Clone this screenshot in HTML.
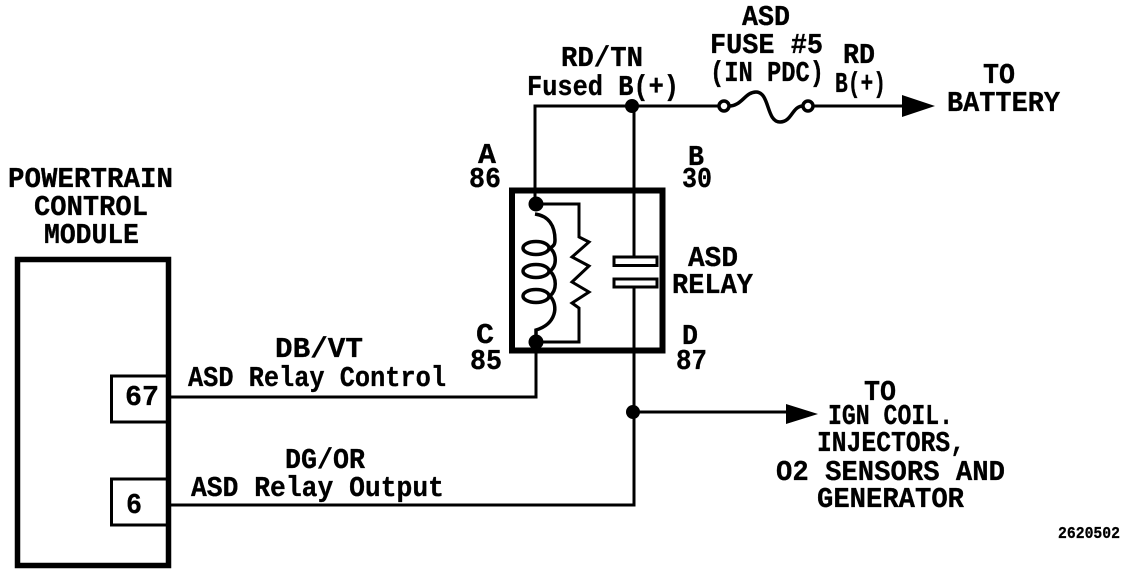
<!DOCTYPE html>
<html><head><meta charset="utf-8"><style>
html,body{margin:0;padding:0;background:#fff;width:1136px;height:576px;overflow:hidden}
svg{display:block}
text{font-family:"Liberation Mono",monospace;font-weight:bold;font-size:29px;fill:#000;stroke:#000;stroke-width:.3px}
</style></head><body>
<svg width="1136" height="576" viewBox="0 0 1136 576" xmlns="http://www.w3.org/2000/svg">
<g fill="none" stroke="#000">
<rect x="17.5" y="259.5" width="151" height="306" stroke-width="5.5"/>
<rect x="111.5" y="376" width="57" height="46" stroke-width="3"/>
<rect x="111.5" y="479" width="57" height="46" stroke-width="3"/>
<rect x="512" y="190.5" width="150.5" height="160" stroke-width="6"/>
<g stroke-width="3">
<path d="M170,397H536V342"/>
<path d="M170,505H634V287"/>
<path d="M634,256V106"/>
<path d="M535,204V106H719"/>
<path d="M813,106H905"/>
<path d="M634,412H790"/>
<path d="M536,204H579V237L589,242L572,257L589,266L572,282L589,292L572,303L579,308V342H536"/>
<rect x="614" y="257" width="43" height="8.5"/>
<rect x="614" y="279" width="43" height="8"/>
</g>
<g stroke-width="3.5">
<path d="M535,214C549,216 555,226 555,240C555,244 554,246 550,248"/>
<ellipse cx="536" cy="248" rx="13" ry="6.5"/>
<path d="M550,248C557,254 557,266 550,271"/>
<ellipse cx="536" cy="271" rx="13" ry="6.5"/>
<path d="M550,271C557,278 557,290 550,296"/>
<ellipse cx="536" cy="296" rx="13" ry="6.5"/>
<path d="M550,296C559,306 556,324 536,330V342"/>
<circle cx="724" cy="106" r="5"/>
<circle cx="808" cy="106" r="5"/>
<path d="M729,106C742,106 745,92 756,92C770,92 766,122 780,122C792,122 792,106 803,106"/>
</g></g>
<g fill="#000">
<circle cx="536" cy="204" r="7.5"/>
<circle cx="536" cy="342" r="7.5"/>
<circle cx="632" cy="106" r="7"/>
<circle cx="633" cy="412" r="7"/>
<path d="M902,95L935,106L902,117Z"/>
<path d="M786,404L818,414L786,424Z"/>
</g>
<text x="8" y="187" textLength="165" lengthAdjust="spacingAndGlyphs">POWERTRAIN</text>
<text x="34" y="215" textLength="114" lengthAdjust="spacingAndGlyphs">CONTROL</text>
<text x="44" y="243" textLength="95" lengthAdjust="spacingAndGlyphs">MODULE</text>
<text x="125" y="405" textLength="34" lengthAdjust="spacingAndGlyphs">67</text>
<text x="126" y="513" textLength="16" lengthAdjust="spacingAndGlyphs">6</text>
<text x="275" y="357" textLength="88" lengthAdjust="spacingAndGlyphs">DB/VT</text>
<text x="188" y="386" textLength="258" lengthAdjust="spacingAndGlyphs">ASD Relay Control</text>
<text x="285" y="468" textLength="80" lengthAdjust="spacingAndGlyphs">DG/OR</text>
<text x="191" y="496" textLength="253" lengthAdjust="spacingAndGlyphs">ASD Relay Output</text>
<text x="478" y="163" textLength="18" lengthAdjust="spacingAndGlyphs">A</text>
<text x="469" y="187" textLength="32" lengthAdjust="spacingAndGlyphs">86</text>
<text x="688" y="165" textLength="16" lengthAdjust="spacingAndGlyphs">B</text>
<text x="682" y="187" textLength="30" lengthAdjust="spacingAndGlyphs">30</text>
<text x="476" y="343" textLength="18" lengthAdjust="spacingAndGlyphs">C</text>
<text x="470" y="369" textLength="32" lengthAdjust="spacingAndGlyphs">85</text>
<text x="682" y="344" textLength="16" lengthAdjust="spacingAndGlyphs">D</text>
<text x="676" y="369" textLength="31" lengthAdjust="spacingAndGlyphs">87</text>
<text x="688" y="266" textLength="50" lengthAdjust="spacingAndGlyphs">ASD</text>
<text x="672" y="293" textLength="81" lengthAdjust="spacingAndGlyphs">RELAY</text>
<text x="561" y="66" textLength="82" lengthAdjust="spacingAndGlyphs">RD/TN</text>
<text x="527" y="95" textLength="152" lengthAdjust="spacingAndGlyphs">Fused B(+)</text>
<text x="742" y="25" textLength="48" lengthAdjust="spacingAndGlyphs">ASD</text>
<text x="710" y="53" textLength="113" lengthAdjust="spacingAndGlyphs">FUSE #5</text>
<text x="710" y="81" textLength="114" lengthAdjust="spacingAndGlyphs">(IN PDC)</text>
<text x="843" y="63" textLength="32" lengthAdjust="spacingAndGlyphs">RD</text>
<text x="835" y="92" textLength="51" lengthAdjust="spacingAndGlyphs">B(+)</text>
<text x="983" y="83" textLength="32" lengthAdjust="spacingAndGlyphs">TO</text>
<text x="947" y="111" textLength="113" lengthAdjust="spacingAndGlyphs">BATTERY</text>
<text x="864" y="400" textLength="32" lengthAdjust="spacingAndGlyphs">TO</text>
<text x="828" y="424" textLength="125" lengthAdjust="spacingAndGlyphs">IGN COIL.</text>
<text x="817" y="451" textLength="148" lengthAdjust="spacingAndGlyphs">INJECTORS,</text>
<text x="776" y="480" textLength="229" lengthAdjust="spacingAndGlyphs">O2 SENSORS AND</text>
<text x="817" y="507" textLength="147" lengthAdjust="spacingAndGlyphs">GENERATOR</text>
<text x="1058" y="538" textLength="62" lengthAdjust="spacingAndGlyphs" style="font-size:17px">2620502</text>
</svg>
</body></html>
